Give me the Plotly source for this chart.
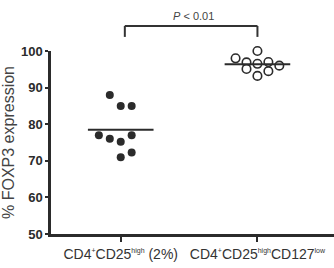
import numpy as np
import plotly.graph_objects as go

def small_sup(s):
    return "<sup><span style='font-size:7px'>" + s + "</span></sup>"

categories = ["CD4" + small_sup("+") + "CD25" + small_sup("high") + " (2%)",
              "CD4" + small_sup("+") + "CD25" + small_sup("high") + "CD127" + small_sup("low")]
group1_values = [88, 85, 85, 77, 76, 75.2, 77, 72.3, 71]
group2_values = [100, 98, 96.9, 96.5, 97, 96, 95.1, 94.5, 93.2]
group1_jitter = [-1, 0, 1, -2, -1, 0, 1, 1, 0]
group2_jitter = [0, -2, -1, 0, 1, 2, -1, 1, 0]
y_ticks = [50, 60, 70, 80, 90, 100]
p_label = "<i>P</i> < 0.01"

step = 0.08
dark = "#2b2b2b"

fig = go.Figure()
fig.add_trace(go.Scatter(
    x=[0 + j * step for j in group1_jitter], y=group1_values, mode="markers",
    marker=dict(size=8, color=dark, line=dict(width=0)), cliponaxis=False, showlegend=False))
fig.add_trace(go.Scatter(
    x=[1 + j * step for j in group2_jitter], y=group2_values, mode="markers",
    marker=dict(size=8.5, color="white", line=dict(width=1.6, color=dark)), cliponaxis=False, showlegend=False))

half = 0.24
for i, vals in enumerate([group1_values, group2_values]):
    m = float(np.mean(vals))
    fig.add_trace(go.Scatter(x=[i - half, i + half], y=[m, m], mode="lines",
                             line=dict(color=dark, width=2), showlegend=False, hoverinfo="skip"))

# significance bracket
fig.add_shape(type="line", xref="x", yref="paper", x0=0.03, x1=1.0, y0=1.137, y1=1.137,
              line=dict(color="#333", width=2))
fig.add_shape(type="line", xref="x", yref="paper", x0=0.03, x1=0.03, y0=1.077, y1=1.137,
              line=dict(color="#333", width=2))
fig.add_shape(type="line", xref="x", yref="paper", x0=1.0, x1=1.0, y0=1.077, y1=1.137,
              line=dict(color="#333", width=2))
fig.add_annotation(x=0.535, y=1.19, xref="x", yref="paper", text=p_label, showarrow=False,
                   yanchor="middle", xanchor="center",
                   font=dict(family="Liberation Sans, Arial", size=11, color="#444"))

fig.update_layout(
    width=334, height=268, margin=dict(l=51, r=0, t=51, b=34),
    paper_bgcolor="white", plot_bgcolor="white",
    font=dict(family="Liberation Sans, Arial", color=dark),
    xaxis=dict(range=[-0.51, 1.56], tickvals=[0, 1], ticktext=categories,
               showline=True, linecolor=dark, linewidth=2.5, ticks="outside", ticklen=5,
               tickwidth=2, tickcolor=dark, showgrid=False, zeroline=False,
               tickfont=dict(size=14, color="#333")),
    yaxis=dict(range=[50, 100], tickvals=y_ticks, showline=True, linecolor=dark, linewidth=2.5,
               ticks="outside", ticklen=3, tickwidth=2, tickcolor=dark, showgrid=False,
               zeroline=False, tickfont=dict(size=13, color=dark, weight="bold"),
               title=dict(text="% FOXP3 expression", font=dict(size=16, color="#444"), standoff=3)),
)

fig.write_html("out.html")
